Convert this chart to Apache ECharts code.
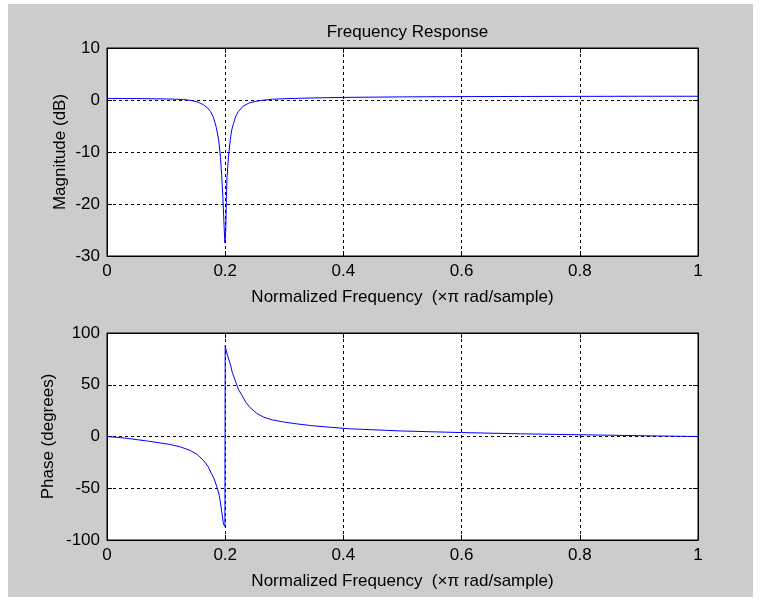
<!DOCTYPE html>
<html><head><meta charset="utf-8">
<script src="https://cdn.jsdelivr.net/npm/echarts@6/dist/echarts.min.js"></script>
<style>html,body{margin:0;padding:0;background:#fff;width:760px;height:601px;overflow:hidden}
#c{position:absolute;left:8px;top:4px;width:745px;height:593px;}</style></head>
<body><div id="c"></div>
<script>
// Normalized frequency (x pi rad/sample) and magnitude (dB)
const magFreq = [0, 0.05, 0.1, 0.13, 0.145, 0.155, 0.163, 0.17, 0.175, 0.18, 0.185, 0.189, 0.192, 0.194, 0.196, 0.198, 0.1995, 0.2, 0.201, 0.202, 0.203, 0.2055, 0.2085, 0.211, 0.214, 0.218, 0.2225, 0.23, 0.24, 0.25, 0.26, 0.28, 0.3, 0.35, 0.4, 0.45, 0.5, 0.6, 0.7, 0.8, 0.9, 1.0];
const magDb   = [0.3, 0.28, 0.2, 0.1, -0.15, -0.45, -0.9, -1.5, -2.2, -3.3, -5.3, -7.7, -11, -14.5, -18.5, -24, -27.5, -27.8, -25, -19, -15, -11, -7.7, -5.8, -4.5, -3.1, -2.2, -1.2, -0.6, -0.3, -0.1, 0.15, 0.25, 0.4, 0.5, 0.55, 0.6, 0.65, 0.68, 0.7, 0.72, 0.72];
// Phase (degrees)
const phaseFreq = [0, 0.03, 0.07, 0.107, 0.125, 0.141, 0.153, 0.163, 0.171, 0.177, 0.182, 0.186, 0.19, 0.193, 0.195, 0.197, 0.1995, 0.2, 0.2, 0.2005, 0.204, 0.2085, 0.212, 0.217, 0.222, 0.228, 0.235, 0.242, 0.253, 0.265, 0.28, 0.3, 0.32, 0.344, 0.389, 0.412, 0.5, 0.6, 0.7, 0.8, 0.9, 1.0];
const phaseDeg  = [0, -1.5, -4.5, -7.7, -10.2, -13.5, -17.5, -23, -29, -36, -42, -49, -57, -68, -76, -84.5, -87, -86, 88, 86, 78, 70, 62, 54, 46, 40, 33, 28, 22.5, 18.7, 16, 13.9, 12.3, 10.6, 8.4, 7.4, 5.3, 3.8, 2.6, 1.7, 0.8, 0];

const titleText = 'Frequency Response';
const xName = 'Normalized Frequency  (\u00d7\u03c0 rad/sample)';
const magName = 'Magnitude (dB)';
const phaseName = 'Phase (degrees)';

const FONT = '"Liberation Sans", Arial, Helvetica, sans-serif';
const FS = 17;
const txt = {color:'#000', fontSize:FS, fontFamily:FONT};
const fmt = v => String(parseFloat(Number(v).toFixed(2)));

function xAx(gi, main){
  return {
    type:'value', gridIndex:gi, min:0, max:1, interval:0.2,
    position: main ? 'bottom' : 'top',
    axisLine:{show:true, onZero:false, lineStyle:{color:'#000', width:1}},
    axisTick:{show:true, inside:true, length:5, lineStyle:{color:'#000', width:1}},
    axisLabel:{show:main, margin:7, formatter:fmt, ...txt},
    splitLine:{show:main, lineStyle:{color:'#000', width:1, type:[3,3]}},
    name: main ? xName : '', nameLocation:'middle', nameGap:33, nameMoveOverlap:false,
    nameTextStyle: txt
  };
}
function yAx(gi, main, mn, mx, iv, nm, gap){
  return {
    type:'value', gridIndex:gi, min:mn, max:mx, interval:iv,
    position: main ? 'left' : 'right',
    axisLine:{show:true, onZero:false, lineStyle:{color:'#000', width:1}},
    axisTick:{show:true, inside:true, length:5, lineStyle:{color:'#000', width:1}},
    axisLabel:{show:main, margin:7, formatter:fmt, ...txt},
    splitLine:{show:main, lineStyle:{color:'#000', width:1, type:[3,3]}},
    name: main ? nm : '', nameLocation:'middle', nameGap:gap, nameRotate:90, nameMoveOverlap:false,
    nameTextStyle: txt
  };
}

const chart = echarts.init(document.getElementById('c'), null, {renderer:'canvas'});
chart.setOption({
  animation:false,
  backgroundColor:'#cccccc',
  title:{text:titleText, left:394.5, top:15, textAlign:'center',
         textStyle:{color:'#000', fontSize:FS, fontWeight:'normal', fontFamily:FONT}},
  grid:[
    {left:99, top:44, width:591, height:208, show:true, backgroundColor:'#fff', borderColor:'#000', borderWidth:1},
    {left:99, top:329, width:591, height:207, show:true, backgroundColor:'#fff', borderColor:'#000', borderWidth:1}
  ],
  xAxis:[xAx(0,true), xAx(0,false), xAx(1,true), xAx(1,false)],
  yAxis:[yAx(0,true,-30,10,10,magName,38), yAx(0,false,-30,10,10,'',38),
         yAx(1,true,-100,100,50,phaseName,50), yAx(1,false,-100,100,50,'',50)],
  series:[
    {type:'line', xAxisIndex:0, yAxisIndex:0, showSymbol:false, smooth:false,
     lineStyle:{color:'#0000ff', width:1}, data: magFreq.map((f,i)=>[f, magDb[i]])},
    {type:'line', xAxisIndex:2, yAxisIndex:2, showSymbol:false, smooth:false,
     lineStyle:{color:'#0000ff', width:1}, data: phaseFreq.map((f,i)=>[f, phaseDeg[i]])}
  ]
});
</script></body></html>
